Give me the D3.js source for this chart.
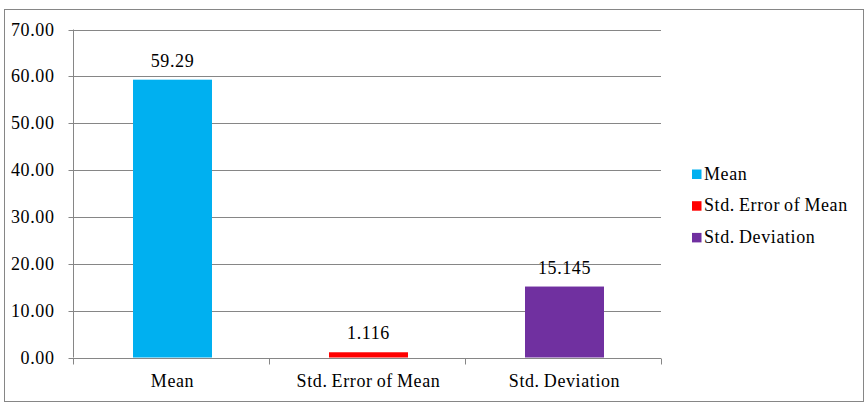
<!DOCTYPE html>
<html><head><meta charset="utf-8">
<script src="https://cdn.jsdelivr.net/npm/d3@7"></script>
<style>body{margin:0;background:#fff}svg{display:block}</style>
</head><body><svg id="c" width="868" height="405"></svg>
<script>
const categories = ["Mean", "Std. Error of Mean", "Std. Deviation"];
const values = [59.29, 1.116, 15.145];
const valueLabels = ["59.29", "1.116", "15.145"];
const colors = ["#00B0F0", "#FF0000", "#7030A0"];
const yTicks = [0, 10, 20, 30, 40, 50, 60, 70];

const FONT = "'Liberation Serif','Times New Roman',serif";
function styleText(sel) {
  return sel.style("font-family", FONT).style("font-size", "18px")
    .style("letter-spacing", "0.6px").style("word-spacing", "-1px").attr("fill", "#000");
}

const svg = d3.select("#c");
const L = 73, R = 661, T = 29.5, B = 357.5;
svg.append("rect").attr("x", 4.5).attr("y", 9.5).attr("width", 859).attr("height", 392)
  .attr("fill", "#fff").attr("stroke", "#868686").attr("stroke-width", 1);

const x = d3.scaleBand().domain(categories).range([L + 1.5, R + 1.5]).paddingInner(0.597).paddingOuter(0.2985);
const y = d3.scaleLinear().domain([0, 70]).range([B, T]);

// gridlines
svg.append("g").selectAll("line").data(yTicks.filter(d => d > 0)).join("line")
  .attr("x1", L).attr("x2", R).attr("y1", d => Math.round(y(d)) + 0.5).attr("y2", d => Math.round(y(d)) + 0.5)
  .attr("stroke", "#868686");

// y axis
const ya = svg.append("g").attr("transform", `translate(${L + 0.5},0)`)
  .call(d3.axisLeft(y).tickValues(yTicks).tickFormat(d3.format(".2f")).tickSize(5).tickPadding(14));
ya.attr("font-family", null).attr("font-size", null);
ya.select(".domain").attr("stroke", "#868686").attr("d", `M0,${T}V${B}`);
ya.selectAll(".tick line").attr("stroke", "#868686");
ya.selectAll(".tick").attr("transform", d => `translate(0,${Math.round(y(d)) + 0.5})`);
styleText(ya.selectAll("text"));

// bars
svg.append("g").selectAll("rect").data(categories).join("rect")
  .attr("x", d => x(d)).attr("width", x.bandwidth())
  .attr("y", (d, i) => y(values[i])).attr("height", (d, i) => y(0) - y(values[i]))
  .attr("fill", (d, i) => colors[i]);

// value labels
styleText(svg.append("g").selectAll("text").data(categories).join("text")
  .attr("x", d => x(d) + x.bandwidth() / 2).attr("y", (d, i) => y(values[i]) - 13)
  .attr("text-anchor", "middle")
  .text((d, i) => valueLabels[i]));

// x axis
const xPos = d3.scalePoint().domain(d3.range(4)).range([L, R]);
const xa = svg.append("g").attr("transform", `translate(0,${Math.round(B) + 0.5})`);
xa.append("line").attr("x1", L).attr("x2", R).attr("stroke", "#868686");
xa.selectAll("line.t").data(d3.range(4)).join("line").attr("class", "t")
  .attr("x1", d => Math.round(xPos(d)) + 0.5).attr("x2", d => Math.round(xPos(d)) + 0.5)
  .attr("y1", 0).attr("y2", 6).attr("stroke", "#868686");
styleText(xa.selectAll("text").data(categories).join("text")
  .attr("x", d => (x(d) + x.bandwidth() / 2)).attr("y", 28.5)
  .attr("text-anchor", "middle").text(d => d));

// legend
const lg = svg.append("g").attr("transform", "translate(692,169.5)");
const li = lg.selectAll("g").data(categories).join("g").attr("transform", (d, i) => `translate(0,${i * 31.7})`);
li.append("rect").attr("width", 9.5).attr("height", 9.5).attr("fill", (d, i) => colors[i]);
styleText(li.append("text").attr("x", 12).attr("y", 10).text(d => d));
</script></body></html>
